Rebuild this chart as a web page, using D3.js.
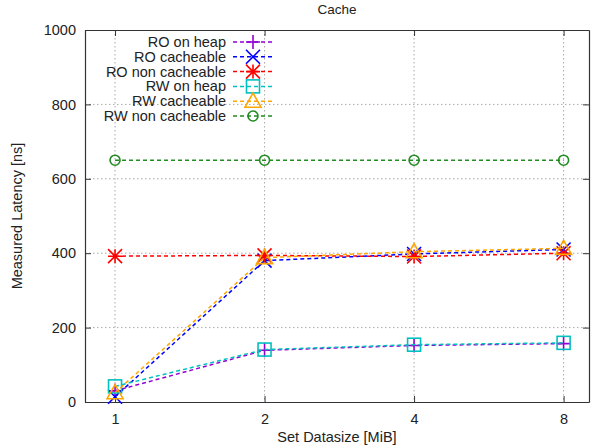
<!DOCTYPE html>
<html>
<head>
<meta charset="utf-8">
<script src="https://cdn.jsdelivr.net/npm/d3@7"></script>
<style>
  body { margin: 0; background: #fff; }
  text { font-family: "Liberation Sans", Arial, sans-serif; fill: #222; }
</style>
</head>
<body>
<div id="chart"></div>
<script>
// data
var sizes = [1, 2, 4, 8];
var seriesNames = ["RO on heap", "RO cacheable", "RO non cacheable", "RW on heap", "RW cacheable", "RW non cacheable"];
var roHeap = [30, 139, 152, 157];
var roCache = [14, 380, 398, 410];
var roNonCache = [392, 394, 391, 400];
var rwHeap = [42, 141, 154, 159];
var rwCache = [25, 388, 404, 413];
var rwNonCache = [650, 650, 650, 650];
var yTicks = [0, 200, 400, 600, 800, 1000];

var colors = ["#9400d3", "#0000ff", "#ff0000", "#00c0c0", "#ffa500", "#228b22"];
var symbols = ["plus", "cross", "star", "square", "triangle", "circle"];
var allValues = [roHeap, roCache, roNonCache, rwHeap, rwCache, rwNonCache];

var W = 592, H = 448;
var margin = {top: 30, right: 3, bottom: 46, left: 85},
	width = W - margin.left - margin.right,
	height = H - margin.top - margin.bottom;

var svg = d3.select("#chart").append("svg")
	.attr("width", W)
	.attr("height", H);

var g = svg.append("g")
	.attr("transform", "translate(" + margin.left + "," + margin.top + ")");

var x = d3.scaleLog().base(2)
	.domain([0.87, 9.0])
	.range([0, width]);

var y = d3.scaleLinear()
	.domain([0, 1000])
	.range([height, 0]);

// grid
g.append("g").selectAll("line")
	.data(yTicks.slice(1, -1))
	.enter().append("line")
	.attr("x1", 0).attr("x2", width)
	.attr("y1", function(d) { return y(d); })
	.attr("y2", function(d) { return y(d); })
	.attr("stroke", "#aaa").attr("stroke-dasharray", "1.5,2.5");

g.append("g").selectAll("line")
	.data(sizes)
	.enter().append("line")
	.attr("x1", function(d) { return x(d); })
	.attr("x2", function(d) { return x(d); })
	.attr("y1", 0).attr("y2", height)
	.attr("stroke", "#aaa").attr("stroke-dasharray", "1.5,2.5");

// axes (ticks inward, mirrored)
var xAxis = g.append("g")
	.attr("transform", "translate(0," + height + ")")
	.call(d3.axisBottom(x).tickValues(sizes).tickFormat(d3.format("d")).tickSizeInner(-6).tickSizeOuter(0).tickPadding(12));
var xTop = g.append("g")
	.call(d3.axisTop(x).tickValues(sizes).tickFormat("").tickSizeInner(-6).tickSizeOuter(0));
var yAxis = g.append("g")
	.call(d3.axisLeft(y).tickValues(yTicks).tickFormat(d3.format("d")).tickSizeInner(-6).tickSizeOuter(0).tickPadding(9));
var yRight = g.append("g")
	.attr("transform", "translate(" + width + ",0)")
	.call(d3.axisRight(y).tickValues(yTicks).tickFormat("").tickSizeInner(-6).tickSizeOuter(0));

[xAxis, xTop, yAxis, yRight].forEach(function(a) {
	a.select(".domain").attr("stroke", "#333").attr("stroke-width", 1.2);
	a.selectAll(".tick line").attr("stroke", "#333");
	a.selectAll(".tick text").style("font-size", "14.5px").attr("fill", "#222")
		.style("font-family", "'Liberation Sans', Arial, sans-serif");
});

function marker(sel, type, color) {
	sel.attr("fill", "none").attr("stroke", color).attr("stroke-width", 1.6);
	var s = 7;
	if (type == "plus") {
		sel.append("path").attr("d", "M" + -s + ",0H" + s + "M0," + -s + "V" + s);
	} else if (type == "cross") {
		sel.append("path").attr("d", "M" + -s + "," + -s + "L" + s + "," + s + "M" + -s + "," + s + "L" + s + "," + -s);
	} else if (type == "star") {
		sel.append("path").attr("d", "M" + -s + ",0H" + s + "M0," + -s + "V" + s +
			"M" + -s + "," + -s + "L" + s + "," + s + "M" + -s + "," + s + "L" + s + "," + -s);
	} else if (type == "square") {
		sel.append("rect").attr("x", -6.5).attr("y", -6.5).attr("width", 13).attr("height", 13);
	} else if (type == "triangle") {
		sel.append("path").attr("d", "M0,-8L8,6H-8Z");
	} else if (type == "circle") {
		sel.append("circle").attr("r", 5);
	}
}

var line = d3.line()
	.x(function(d, i) { return x(sizes[i]); })
	.y(function(d) { return y(d); });

allValues.forEach(function(vals, k) {
	g.append("path")
		.datum(vals)
		.attr("d", line)
		.attr("fill", "none")
		.attr("stroke", colors[k])
		.attr("stroke-width", 1.5)
		.attr("stroke-dasharray", "4,3");
	g.selectAll(".pt" + k)
		.data(vals)
		.enter().append("g")
		.attr("class", "pt" + k)
		.attr("transform", function(d, i) { return "translate(" + x(sizes[i]) + "," + y(d) + ")"; })
		.each(function() { marker(d3.select(this), symbols[k], colors[k]); });
});

// legend
var legend = svg.append("g");
seriesNames.forEach(function(name, k) {
	var ly = 42 + k * 14.8;
	legend.append("text")
		.attr("x", 226).attr("y", ly).attr("dy", "0.35em")
		.attr("text-anchor", "end")
		.style("font-size", "14.5px")
		.text(name);
	legend.append("line")
		.attr("x1", 233).attr("x2", 273).attr("y1", ly).attr("y2", ly)
		.attr("stroke", colors[k]).attr("stroke-width", 1.5).attr("stroke-dasharray", "4,3");
	legend.append("g")
		.attr("transform", "translate(253," + ly + ")")
		.call(marker, symbols[k], colors[k]);
});

// titles
svg.append("text")
	.attr("x", margin.left + width / 2).attr("y", 14)
	.attr("text-anchor", "middle").style("font-size", "13.5px")
	.text("Cache");
svg.append("text")
	.attr("x", margin.left + width / 2).attr("y", 442)
	.attr("text-anchor", "middle").style("font-size", "14.5px")
	.text("Set Datasize [MiB]");
svg.append("text")
	.attr("transform", "translate(22," + (margin.top + height / 2) + ") rotate(-90)")
	.attr("text-anchor", "middle").style("font-size", "14.5px")
	.text("Measured Latency [ns]");
</script>
</body>
</html>
